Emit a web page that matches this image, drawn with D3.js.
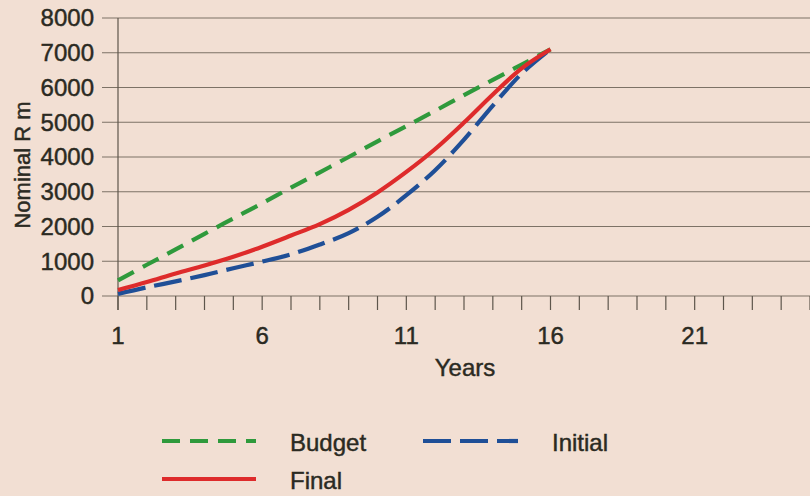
<!DOCTYPE html>
<html><head><meta charset="utf-8">
<script src="https://cdn.jsdelivr.net/npm/d3@7"></script>
<style>
html,body{margin:0;padding:0;background:#f2dfd3;}
svg{display:block;font-family:"Liberation Sans",Arial,sans-serif;}
svg text{stroke:#2b2a22;stroke-width:0.45px;}
</style></head><body>
<svg id="c" width="810" height="496"></svg>
<script>
const years = d3.range(1, 17);
const budget  = [450, 900, 1340, 1790, 2230, 2670, 3120, 3560, 4000, 4450, 4890, 5330, 5780, 6220, 6660, 7100];
const final   = [170, 400, 650, 880, 1130, 1420, 1740, 2070, 2480, 2980, 3570, 4230, 4990, 5800, 6550, 7100];
const initial = [60, 250, 420, 600, 800, 990, 1200, 1480, 1810, 2280, 2900, 3620, 4500, 5480, 6400, 7100];
const yTicks = [0, 1000, 2000, 3000, 4000, 5000, 6000, 7000, 8000];
const xTickLabels = [1, 6, 11, 16, 21];
const xCategories = d3.range(1, 26);
const seriesNames = ["Budget", "Initial", "Final"];

const svg = d3.select("#c");
const x = d3.scaleLinear().domain([1, 25]).range([118, 810]);
const y = d3.scaleLinear().domain([0, 8000]).range([296, 18]);
const ink = "#2b2a22";
const font = 24;

// horizontal gridlines
svg.append("g").selectAll("line").data(yTicks).join("line")
  .attr("x1", 102).attr("x2", 810)
  .attr("y1", d => y(d)).attr("y2", d => y(d))
  .attr("stroke", "#7d7266").attr("stroke-width", 1.2);

// y tick labels
svg.append("g").selectAll("text").data(yTicks).join("text")
  .attr("x", 94).attr("y", d => y(d)).attr("dy", "0.35em")
  .attr("text-anchor", "end").attr("font-size", font).attr("fill", ink)
  .text(d => d);

// y axis line
svg.append("line").attr("x1", x(1)).attr("x2", x(1)).attr("y1", y(8000)).attr("y2", 310)
  .attr("stroke", "#5e564c").attr("stroke-width", 1.2);

// x ticks
svg.append("g").selectAll("line").data(xCategories).join("line")
  .attr("x1", d => x(d)).attr("x2", d => x(d))
  .attr("y1", y(0)).attr("y2", 310)
  .attr("stroke", "#5e564c").attr("stroke-width", 1.2);

svg.append("g").selectAll("text").data(xTickLabels).join("text")
  .attr("x", d => x(d)).attr("y", 336).attr("dy", "0.35em")
  .attr("text-anchor", "middle").attr("font-size", font).attr("fill", ink)
  .text(d => d);

// axis titles
svg.append("text").attr("x", 465).attr("y", 368).attr("dy", "0.35em")
  .attr("text-anchor", "middle").attr("font-size", font).attr("fill", ink).text("Years");
svg.append("text").attr("transform", "translate(22,165) rotate(-90)").attr("dy", "0.35em")
  .attr("text-anchor", "middle").attr("font-size", 22).attr("fill", ink).text("Nominal R m");

const styles = {
  Budget:  {color: "#2f9a3c", dash: "18,10", data: budget},
  Initial: {color: "#1f4f97", dash: "28,9", data: initial},
  Final:   {color: "#de2b2b", dash: null, data: final}
};

const line = d3.line().x((d, i) => x(years[i])).y(d => y(d)).curve(d3.curveCatmullRom.alpha(0.5));
["Initial", "Budget", "Final"].forEach(name => {
  const s = styles[name];
  svg.append("path").datum(s.data).attr("d", line)
    .attr("fill", "none").attr("stroke", s.color).attr("stroke-width", 4.2)
    .attr("stroke-dasharray", s.dash);
});

// legend
const legend = [
  {name: "Budget", x1: 162, x2: 256, ly: 441, tx: 290},
  {name: "Initial", x1: 423, x2: 518, ly: 441, tx: 552},
  {name: "Final", x1: 162, x2: 256, ly: 479, tx: 290}
];
const lg = svg.append("g");
legend.forEach(l => {
  const s = styles[l.name];
  lg.append("line").attr("x1", l.x1).attr("x2", l.x2).attr("y1", l.ly).attr("y2", l.ly)
    .attr("stroke", s.color).attr("stroke-width", 4.2).attr("stroke-dasharray", s.dash);
  lg.append("text").attr("x", l.tx).attr("y", l.ly + 2).attr("dy", "0.35em")
    .attr("font-size", font).attr("fill", ink).text(l.name);
});
</script>
</body></html>
